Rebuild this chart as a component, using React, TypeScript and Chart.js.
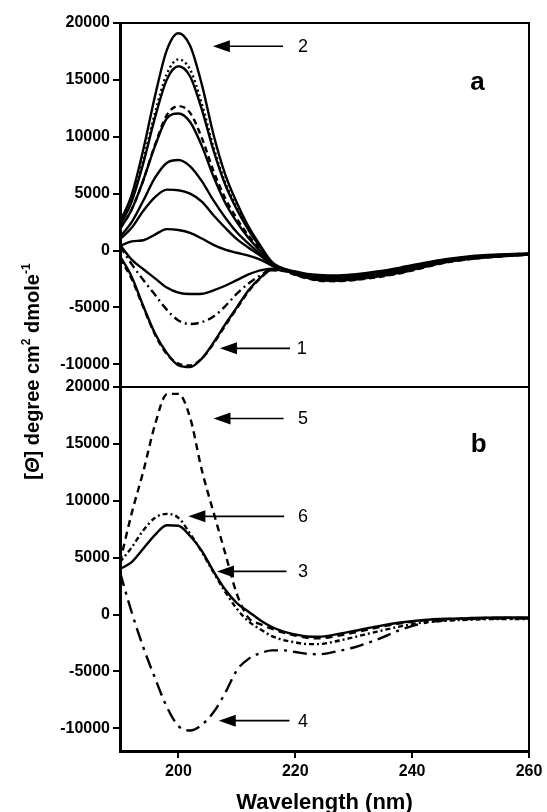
import { useEffect, useRef } from "react";
import { Chart, registerables } from "chart.js";

Chart.register(...registerables);

// wavelength grid (nm)
const WAVELENGTH = [190, 192, 194, 196, 198, 200, 202, 204, 206, 208, 210, 212, 214, 216, 218, 220, 222, 224, 227, 230, 234, 238, 242, 246, 250, 255, 260];
const X_TICKS = [200, 220, 240, 260];
const Y_TICKS = [-10000, -5000, 0, 5000, 10000, 15000, 20000];

// panel a
const A_CURVE_2 = [2500, 4900, 8900, 13600, 17600, 19100, 18000, 14600, 10200, 6700, 4200, 2100, 450, -1000, -1600, -1850, -2050, -2150, -2200, -2100, -1850, -1500, -1100, -750, -500, -350, -250];
const A_DOTTED = [2300, 4500, 8000, 12100, 15500, 16800, 15900, 12900, 9100, 6000, 3800, 1900, 350, -1050, -1600, -1900, -2100, -2200, -2250, -2150, -1900, -1550, -1150, -800, -550, -380, -280];
const A_SOLID_16 = [2200, 4300, 7700, 11700, 15000, 16200, 15300, 12400, 8800, 5800, 3600, 1800, 300, -1100, -1620, -1920, -2150, -2250, -2300, -2200, -1950, -1600, -1200, -820, -560, -390, -290];
const A_DASHED_12 = [1900, 3600, 6200, 9300, 11900, 12700, 12100, 9900, 7000, 4600, 2800, 1300, 100, -1150, -1650, -1950, -2200, -2350, -2400, -2300, -2050, -1700, -1250, -850, -600, -420, -300];
const A_SOLID_12 = [1900, 3600, 6200, 9200, 11600, 12050, 11300, 9200, 6500, 4200, 2500, 1100, -50, -1200, -1650, -1950, -2200, -2350, -2400, -2300, -2050, -1700, -1250, -850, -600, -420, -300];
const A_SOLID_8 = [1200, 2500, 4400, 6400, 7700, 7950, 7400, 6100, 4400, 2900, 1600, 600, -300, -1300, -1700, -2000, -2250, -2400, -2450, -2350, -2100, -1750, -1300, -880, -620, -430, -310];
const A_SOLID_5 = [1000, 2000, 3500, 4700, 5350, 5300, 5000, 4300, 3100, 2000, 1000, 250, -450, -1300, -1700, -2050, -2300, -2450, -2500, -2400, -2150, -1800, -1350, -900, -640, -440, -320];
const A_SOLID_2 = [400, 800, 900, 1400, 1880, 1800, 1550, 1050, 500, 80, -200, -450, -800, -1300, -1700, -2050, -2350, -2500, -2550, -2450, -2200, -1850, -1400, -950, -680, -470, -340];
const A_SOLID_M4 = [500, -800, -1650, -2450, -3250, -3700, -3830, -3800, -3500, -3100, -2600, -2100, -1750, -1600, -1700, -2050, -2350, -2550, -2600, -2500, -2250, -1900, -1400, -950, -700, -500, -350];
const A_DASHDOT_M6 = [400, -1200, -2600, -3900, -5200, -6150, -6460, -6300, -5800, -4900, -3800, -2900, -2200, -1700, -1750, -2100, -2400, -2600, -2650, -2550, -2300, -1950, -1450, -1000, -720, -510, -360];
const A_CURVE_1 = [-500, -2300, -4900, -7300, -9000, -10100, -10250, -9500, -8100, -6500, -5000, -3500, -2400, -1700, -1750, -2100, -2400, -2600, -2650, -2550, -2300, -1950, -1450, -1000, -720, -510, -360];
const A_DASHED_M10 = [-700, -2500, -5000, -7400, -9100, -9950, -10100, -9500, -8200, -6600, -5100, -3600, -2450, -1750, -1800, -2150, -2450, -2650, -2700, -2600, -2350, -2000, -1500, -1050, -750, -530, -370];

// panel b
const B_CURVE_3 = [4000, 4600, 5800, 7000, 7850, 7800, 6900, 5600, 3800, 2200, 1000, 250, -500, -1100, -1500, -1750, -1930, -1950, -1750, -1450, -1050, -700, -480, -370, -310, -260, -250];
const B_CURVE_4 = [3700, 200, -2900, -5600, -8100, -9800, -10200, -9700, -8600, -6900, -4900, -3900, -3400, -3150, -3150, -3300, -3450, -3500, -3250, -2900, -2200, -1350, -750, -500, -400, -350, -350];
const B_CURVE_5 = [4600, 8900, 12600, 16700, 19350, 19400, 17300, 12700, 9000, 5400, 1800, -300, -850, -1250, -1600, -1850, -2050, -2100, -1900, -1600, -1150, -780, -520, -410, -350, -300, -300];
const B_CURVE_6 = [4600, 5900, 7400, 8500, 8850, 8500, 7100, 5500, 3700, 2000, 500, -600, -1300, -1900, -2250, -2450, -2600, -2600, -2350, -2000, -1500, -1050, -700, -550, -450, -400, -400];

// arrow annotations: label, tip [nm, value], tail nm, label nm
const ARROWS_A = [
  { label: "2", tip: [205.9, 17960], tail: 217.9, text: 221.3 },
  { label: "1", tip: [207.1, -8600], tail: 219.1, text: 221.1 },
];
const ARROWS_B = [
  { label: "5", tip: [206.0, 17230], tail: 218.0, text: 221.3 },
  { label: "6", tip: [201.7, 8630], tail: 218.1, text: 221.3 },
  { label: "3", tip: [206.6, 3790], tail: 218.5, text: 221.3 },
  { label: "4", tip: [206.9, -9330], tail: 219.0, text: 221.3 },
];
const PANEL_A_LABEL = { text: "a", at: [251.2, 14740] };
const PANEL_B_LABEL = { text: "b", at: [251.4, 14940] };

const FONT = "'Liberation Sans', Arial, Helvetica, sans-serif";

const DASHED = [6, 4];
const DOTTED = [2, 3];
const DASHDOT = [8, 4, 2, 4];

const SERIES = [
  { values: A_CURVE_2, axis: "ya", dash: [] },
  { values: A_DOTTED, axis: "ya", dash: DOTTED },
  { values: A_SOLID_16, axis: "ya", dash: [] },
  { values: A_DASHED_12, axis: "ya", dash: DASHED },
  { values: A_SOLID_12, axis: "ya", dash: [] },
  { values: A_SOLID_8, axis: "ya", dash: [] },
  { values: A_SOLID_5, axis: "ya", dash: [] },
  { values: A_SOLID_2, axis: "ya", dash: [] },
  { values: A_SOLID_M4, axis: "ya", dash: [] },
  { values: A_DASHDOT_M6, axis: "ya", dash: DASHDOT },
  { values: A_CURVE_1, axis: "ya", dash: [] },
  { values: A_DASHED_M10, axis: "ya", dash: DASHED },
  { values: B_CURVE_3, axis: "yb", dash: [] },
  { values: B_CURVE_5, axis: "yb", dash: [7, 5] },
  { values: B_CURVE_6, axis: "yb", dash: [5, 3, 2, 3] },
  { values: B_CURVE_4, axis: "yb", dash: [14, 6, 3, 6] },
];

function drawArrow(ctx: CanvasRenderingContext2D, x: any, y: any, a: any) {
  const tx = x.getPixelForValue(a.tip[0]);
  const ty = y.getPixelForValue(a.tip[1]);
  const ex = x.getPixelForValue(a.tail);
  ctx.beginPath();
  ctx.lineWidth = 1.6;
  ctx.moveTo(tx + 14, ty);
  ctx.lineTo(ex, ty);
  ctx.stroke();
  ctx.beginPath();
  ctx.moveTo(tx, ty);
  ctx.lineTo(tx + 17, ty - 6);
  ctx.lineTo(tx + 17, ty + 6);
  ctx.closePath();
  ctx.fill();
  ctx.font = `18px ${FONT}`;
  ctx.textAlign = "center";
  ctx.textBaseline = "middle";
  ctx.fillText(a.label, x.getPixelForValue(a.text), ty + 1);
}

const overlay = {
  id: "overlay",
  afterDraw(chart: any) {
    const { ctx, chartArea: ca, scales } = chart;
    const xs = scales.x;
    const ya = scales.ya;
    const yb = scales.yb;
    ctx.save();
    ctx.strokeStyle = "#000";
    ctx.fillStyle = "#000";
    ctx.lineWidth = 2;
    ctx.beginPath();
    ctx.moveTo(ca.left, ca.top);
    ctx.lineTo(ca.right, ca.top);
    ctx.lineTo(ca.right, ca.bottom);
    ctx.moveTo(ca.left, ya.bottom);
    ctx.lineTo(ca.right, ya.bottom);
    ctx.stroke();

    ARROWS_A.forEach((a) => drawArrow(ctx, xs, ya, a));
    ARROWS_B.forEach((a) => drawArrow(ctx, xs, yb, a));

    ctx.font = `bold 26px ${FONT}`;
    ctx.textAlign = "center";
    ctx.textBaseline = "middle";
    ctx.fillText(PANEL_A_LABEL.text, xs.getPixelForValue(PANEL_A_LABEL.at[0]), ya.getPixelForValue(PANEL_A_LABEL.at[1]));
    ctx.fillText(PANEL_B_LABEL.text, xs.getPixelForValue(PANEL_B_LABEL.at[0]), yb.getPixelForValue(PANEL_B_LABEL.at[1]));

    // x title
    ctx.font = `bold 22px ${FONT}`;
    ctx.textBaseline = "alphabetic";
    ctx.fillText("Wavelength (nm)", (ca.left + ca.right) / 2, 809);

    // y title with italic theta and superscripts
    const big = `bold 20px ${FONT}`;
    const small = `bold 12px ${FONT}`;
    const parts = [
      { t: "[", f: big, dy: 0 },
      { t: "Θ", f: `italic bold 20px ${FONT}`, dy: 0 },
      { t: "] degree cm", f: big, dy: 0 },
      { t: "2", f: small, dy: -9 },
      { t: " dmole", f: big, dy: 0 },
      { t: "-1", f: small, dy: -9 },
    ];
    let total = 0;
    parts.forEach((p) => {
      ctx.font = p.f;
      total += ctx.measureText(p.t).width;
    });
    ctx.translate(39, 371.5);
    ctx.rotate(-Math.PI / 2);
    ctx.textAlign = "left";
    let px = -total / 2;
    parts.forEach((p) => {
      ctx.font = p.f;
      ctx.fillText(p.t, px, p.dy);
      px += ctx.measureText(p.t).width;
    });
    ctx.restore();
  },
};

const yAxis = () => ({
  type: "linear",
  position: "left",
  stack: "panels",
  stackWeight: 1,
  min: -12000,
  max: 20000,
  afterBuildTicks: (s: any) => {
    s.ticks = Y_TICKS.map((v) => ({ value: v }));
  },
  afterFit: (s: any) => {
    s.width = 120;
  },
  grid: { drawOnChartArea: false, tickLength: 7, lineWidth: 2, color: "#000" },
  border: { width: 3, color: "#000" },
  ticks: {
    color: "#000",
    padding: 3,
    font: { family: FONT, size: 16, weight: "bold" },
    callback: (v: any) => String(v),
  },
});

export default function App() {
  const canvasRef = useRef<HTMLCanvasElement>(null);

  useEffect(() => {
    if (!canvasRef.current) return;
    const chart = new Chart(canvasRef.current, {
      type: "line",
      data: {
        datasets: SERIES.map((s, i) => ({
          label: `curve ${i + 1}`,
          data: WAVELENGTH.map((x, j) => ({ x, y: s.values[j] })),
          yAxisID: s.axis,
          borderColor: "#000",
          borderWidth: 2.4,
          borderDash: s.dash,
          pointRadius: 0,
          fill: false,
          cubicInterpolationMode: "monotone",
        })),
      },
      options: {
        responsive: false,
        animation: false,
        layout: { padding: { top: 23, right: 18, left: 0, bottom: 0 } },
        plugins: { legend: { display: false }, tooltip: { enabled: false } },
        scales: {
          x: {
            type: "linear",
            min: 190,
            max: 260,
            afterBuildTicks: (s: any) => {
              s.ticks = X_TICKS.map((v) => ({ value: v }));
            },
            afterFit: (s: any) => {
              s.height = 61;
            },
            grid: { drawOnChartArea: false, tickLength: 7, lineWidth: 2, color: "#000" },
            border: { width: 3, color: "#000" },
            ticks: {
              color: "#000",
              padding: 4,
              maxRotation: 0,
              font: { family: FONT, size: 16, weight: "bold" },
              callback: (v: any) => String(v),
            },
          },
          yb: yAxis(),
          ya: yAxis(),
        },
      } as any,
      plugins: [overlay],
    });
    return () => chart.destroy();
  }, []);

  return (
    <div style={{ position: "absolute", left: 0, top: 0, width: 547, height: 812, background: "#fff" }}>
      <canvas ref={canvasRef} width={547} height={812} style={{ display: "block", width: 547, height: 812 }} />
    </div>
  );
}
